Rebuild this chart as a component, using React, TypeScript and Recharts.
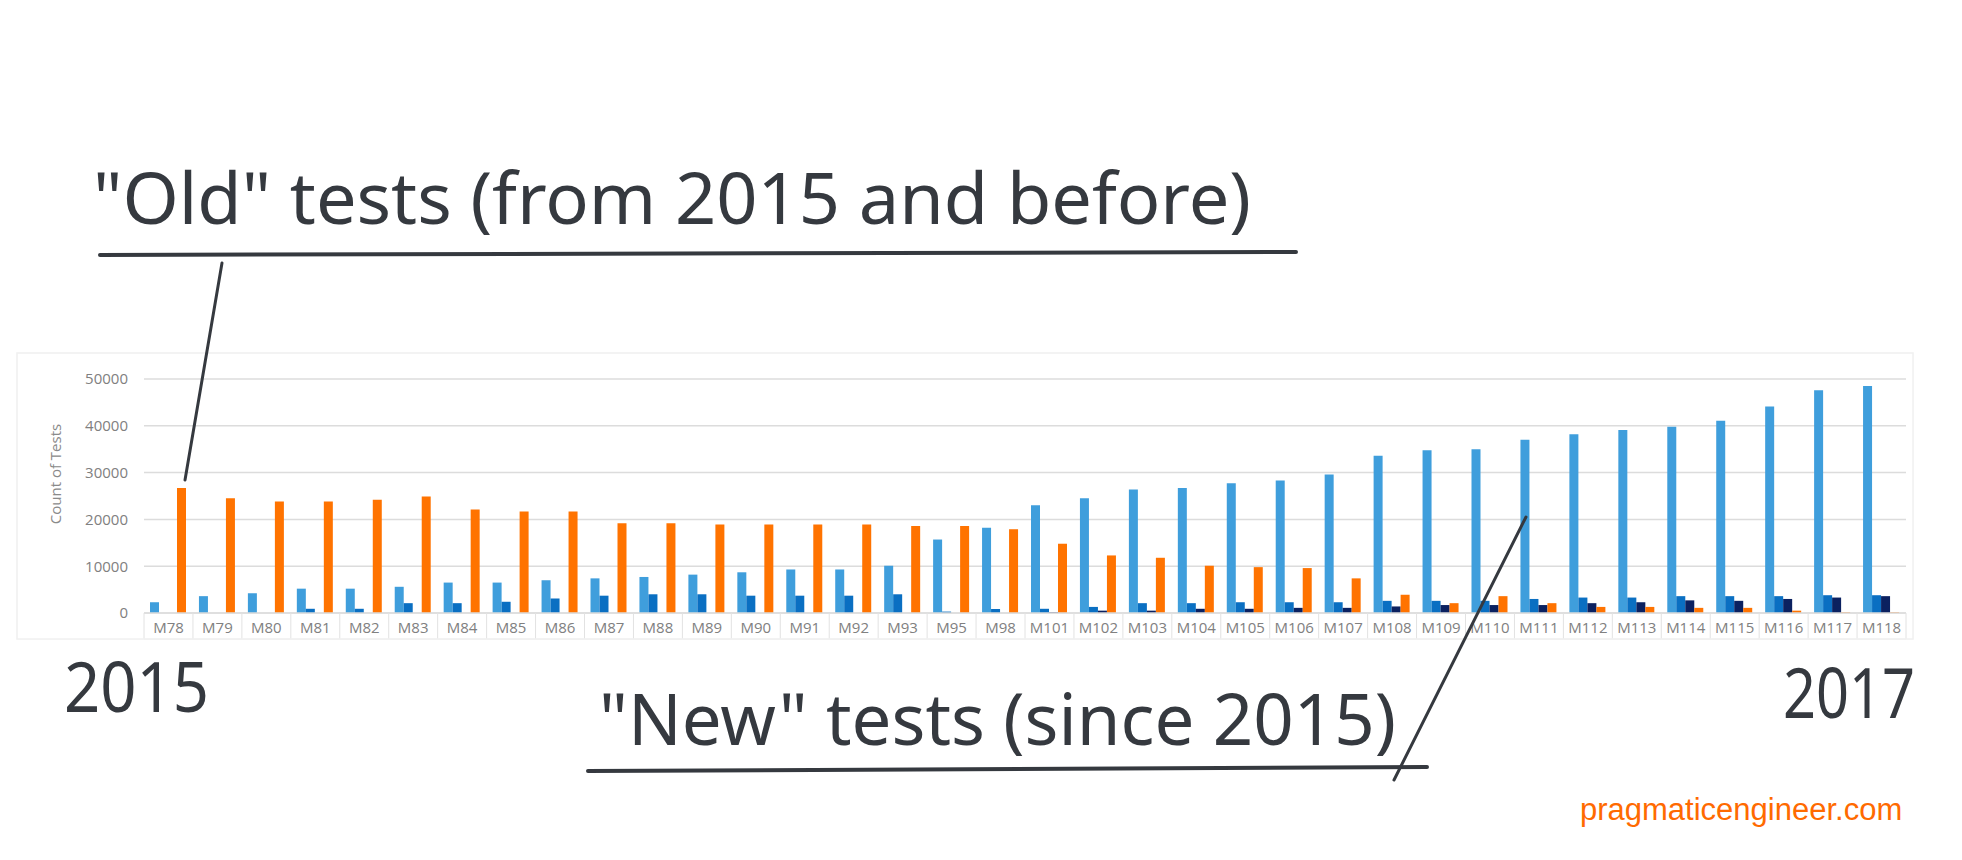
import { BarChart, Bar, XAxis, YAxis, CartesianGrid } from 'recharts'

const LIGHT = '#3f9edc'
const MID = '#0a6fc2'
const NAVY = '#0b2160'
const ORANGE = '#ff7300'
const GRID = '#dcdcdc'
const CELL = '#e2e2e2'
const AXIS_TXT = '#808080'
const INK = '#35393f'
const HAND = '"Noto Sans", "Open Sans", sans-serif'

// releases (x axis categories)
const CATS = [
  'M78', 'M79', 'M80', 'M81', 'M82', 'M83', 'M84', 'M85', 'M86', 'M87', 'M88', 'M89',
  'M90', 'M91', 'M92', 'M93', 'M95', 'M98', 'M101', 'M102', 'M103', 'M104', 'M105', 'M106',
  'M107', 'M108', 'M109', 'M110', 'M111', 'M112', 'M113', 'M114', 'M115', 'M116', 'M117', 'M118',
]

// test counts per release
const NEW_TESTS = [
  2300, 3600, 4200, 5200, 5200, 5600, 6500, 6500, 7000, 7400, 7700, 8200,
  8700, 9300, 9300, 10100, 15700, 18200, 23000, 24500, 26400, 26700, 27700, 28300,
  29600, 33600, 34800, 35000, 37000, 38200, 39100, 39800, 41100, 44100, 47600, 48500,
]
const MID_TESTS = [
  0, 0, 0, 900, 900, 2100, 2100, 2400, 3100, 3700, 4000, 4000,
  3700, 3700, 3700, 4000, 300, 850, 900, 1300, 2100, 2100, 2300, 2300,
  2300, 2600, 2600, 2600, 3000, 3300, 3300, 3600, 3600, 3600, 3800, 3800,
]
const NAVY_TESTS = [
  0, 0, 0, 0, 0, 0, 0, 0, 0, 0, 0, 0,
  0, 0, 0, 0, 0, 0, 150, 500, 500, 900, 900, 1100,
  1100, 1400, 1700, 1700, 1700, 2100, 2300, 2700, 2600, 3000, 3300, 3600,
]
const OLD_TESTS = [
  26700, 24500, 23800, 23800, 24200, 24900, 22100, 21700, 21700, 19200, 19200, 18900,
  18900, 18900, 18900, 18600, 18600, 17900, 14800, 12300, 11800, 10100, 9800, 9600,
  7400, 3900, 2100, 3600, 2100, 1300, 1300, 1100, 1100, 500, 150, 150,
]

const Y_TICKS = [0, 10000, 20000, 30000, 40000, 50000]

const data = CATS.map((name, i) => ({
  name,
  a: NEW_TESTS[i],
  b: MID_TESTS[i],
  c: NAVY_TESTS[i],
  d: OLD_TESTS[i],
}))

// category label drawn as a little table cell, like the Excel axis
function CatTick({ x, y, payload, index }: any) {
  const half = payload?.offset ?? 24.5
  const last = index === CATS.length - 1
  return (
    <g>
      <line x1={x - half} x2={x - half} y1={y} y2={y + 26} stroke={CELL} />
      {last && <line x1={x + half} x2={x + half} y1={y} y2={y + 26} stroke={CELL} />}
      <line x1={x - half} x2={x + half} y1={y + 26} y2={y + 26} stroke="#eeeeee" />
      <text x={x} y={y + 14} textAnchor="middle" dominantBaseline="central"
        fill={AXIS_TXT} fontSize={15} fontFamily='"Open Sans", sans-serif'>
        {payload.value}
      </text>
    </g>
  )
}

export default function App() {
  return (
    <div style={{ position: 'relative', width: 1962, height: 860, background: '#fff' }}>
      <style>{'body{margin:0}'}</style>
      <BarChart width={1962} height={860} data={data} barSize={9} barGap={0}
        margin={{ top: 379, right: 56, left: 0, bottom: 217 }}>
        <CartesianGrid vertical={false} stroke={GRID} strokeWidth={1.5} />
        <XAxis dataKey="name" interval={0} height={30} tickSize={0} tickMargin={0}
          tickLine={false} axisLine={{ stroke: GRID, strokeWidth: 1.5 }} tick={<CatTick />} />
        <YAxis width={144} domain={[0, 50000]} ticks={Y_TICKS} tickSize={0} tickMargin={16}
          tickLine={false} axisLine={false} allowDataOverflow
          tick={{ fill: AXIS_TXT, fontSize: 15, fontFamily: '"Open Sans", sans-serif' }} />
        <Bar dataKey="a" fill={LIGHT} isAnimationActive={false} />
        <Bar dataKey="b" fill={MID} isAnimationActive={false} />
        <Bar dataKey="c" fill={NAVY} isAnimationActive={false} />
        <Bar dataKey="d" fill={ORANGE} isAnimationActive={false} />
      </BarChart>

      {/* hand-drawn annotations on top of the chart */}
      <svg width={1962} height={860} style={{ position: 'absolute', left: 0, top: 0, pointerEvents: 'none' }}>
        <rect x={17} y={353} width={1896} height={286} fill="none" stroke="#f0f0f0" strokeWidth={1.5} />
        <text x={55} y={474} transform="rotate(-90 55 474)" textAnchor="middle" dominantBaseline="central"
          fill="#8a8a8a" fontSize={15} fontFamily='"Open Sans", sans-serif'>Count of Tests</text>

        <text x={93} y={224} fill={INK} fontSize={72} fontFamily={HAND}
          textLength={1158} lengthAdjust="spacingAndGlyphs">"Old" tests (from 2015 and before)</text>
        <line x1={100} y1={255} x2={1296} y2={252} stroke={INK} strokeWidth={4} strokeLinecap="round" />
        <line x1={222} y1={263} x2={185} y2={480} stroke={INK} strokeWidth={3} strokeLinecap="round" />

        <text x={64} y={712} fill={INK} fontSize={70} fontFamily={HAND}
          textLength={145} lengthAdjust="spacingAndGlyphs">2015</text>
        <text x={1783} y={718} fill={INK} fontSize={70} fontFamily={HAND}
          textLength={132} lengthAdjust="spacingAndGlyphs">2017</text>

        <text x={599} y={745} fill={INK} fontSize={72} fontFamily={HAND}
          textLength={797} lengthAdjust="spacingAndGlyphs">"New" tests (since 2015)</text>
        <line x1={588} y1={771} x2={1427} y2={767} stroke={INK} strokeWidth={4} strokeLinecap="round" />
        <line x1={1394} y1={780} x2={1526} y2={517} stroke={INK} strokeWidth={3} strokeLinecap="round" />

        <text x={1580} y={820} fill="#ff6a00" fontSize={31}
          fontFamily='"Liberation Sans", Arial, sans-serif'>pragmaticengineer.com</text>
      </svg>
    </div>
  )
}
